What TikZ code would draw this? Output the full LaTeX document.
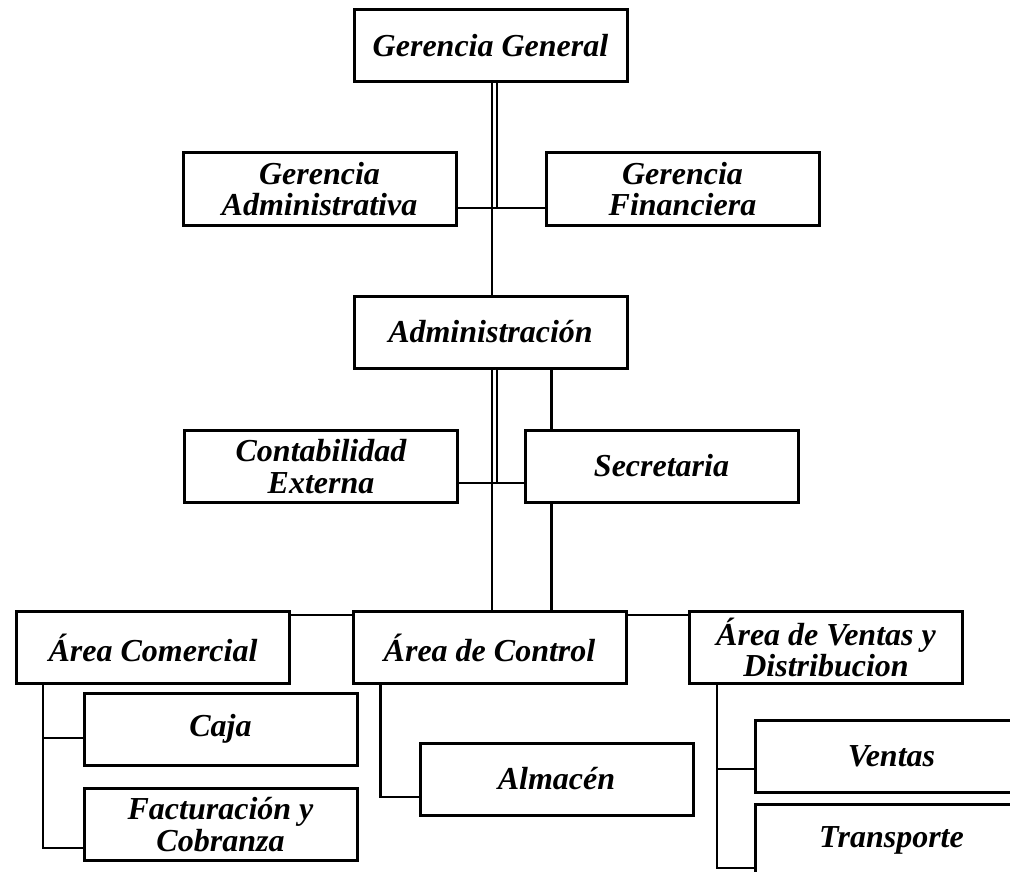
\documentclass[tikz,border=0pt]{standalone}
\usepackage{fontspec}
\setmainfont{Liberation Serif}
\usepackage{tikz}
\usetikzlibrary{calc}
\usetikzlibrary{positioning}

\begin{document}
\begin{tikzpicture}[x=1pt, y=-1pt]

    \tikzstyle{blk} = [rectangle, draw=black, line width=3pt, minimum width=273pt, minimum height=72pt, inner sep=0pt, align=center, font=\fontsize{32}{31.5}\selectfont\bfseries\itshape]
    \tikzstyle{line} = [line width=2.8pt]
    \tikzstyle{dline} = [draw=black, double=white, double distance=2.6pt, line width=2.3pt]

    \useasboundingbox (0,0) rectangle (1010,872);

    % Node placement at pixel coordinates %%%%%%%%%%%%%%%%%%%%%%%%%%%%%%%%%%%%%%%%%%%%%%%%
    \node[blk] (gg)    at (490.5, 46)  {Gerencia General};
    \node[blk] (ga)    at (319.5, 189) {Gerencia\\Administrativa};
    \node[blk] (gf)    at (682.5, 189) {Gerencia\\Financiera};
    \node[blk] (adm)   at (490.5, 332) {Administración};
    \node[blk] (ce)    at (321, 466.5) {Contabilidad\\Externa};
    \node[blk] (sec)   at (661.5, 466) {Secretaria};

    \node[blk] (acom)  at (153, 647.5)   {Área Comercial};
    \node[blk] (actrl) at (489.5, 647.5) {Área de Control};
    \node[blk] (avd)   at (826, 647.5)   {Área de Ventas y\\Distribucion};

    \node[blk] (caja)  at (220.5, 729)   {Caja};
    \node[blk] (fact)  at (220.5, 824.5) {Facturación y\\Cobranza};
    \node[blk] (alm)   at (556.5, 779)   {Almacén};
    \node[blk] (ven)   at (891.5, 756.5) {Ventas};
    \node[blk] (tra)   at (891.5, 840)   {Transporte};

    \coordinate (jA) at (494.5, 208);
    \coordinate (jB) at (494.5, 483);

    % Now link the nodes %%%%%%%%%%%%%%%%%%%%%%%%%%%%%%%%%%%%%%%%%%%%%%%%%%%%%%%%%%%%%%%%
    \draw [dline] (jA |- gg.south) -- (jA);
    \draw [line]  (ga.east |- jA) -- (gf.west |- jA);
    \draw [line]  ($(jA)+(-2.5,0)$) -- ($(jA |- adm.north)+(-2.5,0)$);

    \draw [dline] (jB |- adm.south) -- (jB);
    \draw [line]  (ce.east |- jB) -- (sec.west |- jB);
    \draw [line]  ($(jB)+(-2.5,0)$) -- ($(jB |- actrl.north)+(-2.5,0)$);
    \draw [line]  ($(adm.south)+(61,0)$) coordinate (s1) -- (s1 |- sec.north);
    \draw [line]  (s1 |- sec.south) -- (s1 |- actrl.north);

    \draw [line]  ($(acom.north east)+(0,5)$) -- ($(actrl.north west)+(0,5)$);
    \draw [line]  ($(actrl.north east)+(0,5)$) -- ($(avd.north west)+(0,5)$);

    \draw [line]  ($(acom.south west)+(28,0)$) coordinate (c1) |- ($(caja.west)+(0,9)$);
    \draw [line]  (c1) |- ($(fact.west)+(0,23.5)$);
    \draw [line]  ($(actrl.south west)+(29,0)$) |- ($(alm.west)+(0,18)$);
    \draw [line]  ($(avd.south west)+(29,0)$) coordinate (c3) |- ($(ven.west)+(0,12.5)$);
    \draw [line]  (c3) |- ($(tra.west)+(0,28)$);

\end{tikzpicture}
\end{document}
